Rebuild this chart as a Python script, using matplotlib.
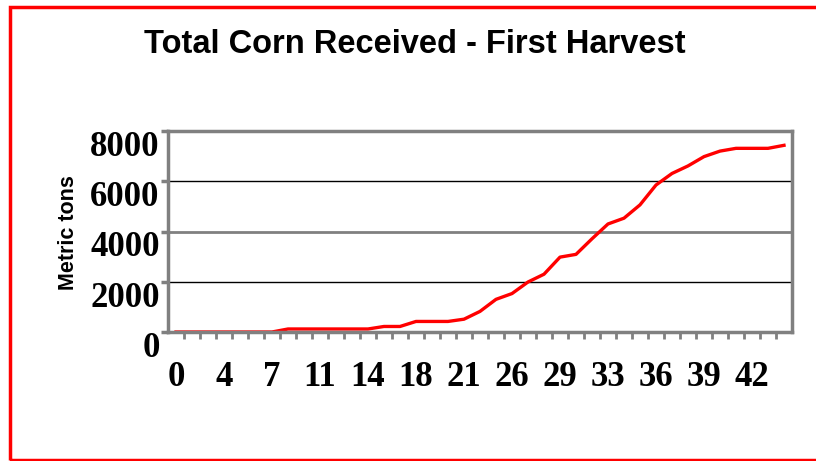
import matplotlib
matplotlib.use("Agg")
import matplotlib.pyplot as plt
from matplotlib.patches import Rectangle

# days of harvest (category axis) and cumulative corn received, metric tons
days = [0, 1, 2, 4, 5, 6, 7, 8, 10, 11, 12, 13, 14, 15, 17, 18, 19, 20, 21, 22,
        25, 26, 27, 28, 29, 30, 32, 33, 34, 35, 36, 37, 38, 39, 40, 41, 42, 43, 44]
tons = [0, 0, 0, 0, 0, 0, 0, 120, 120, 120, 120, 120, 120, 220, 220, 420, 420, 420,
        510, 820, 1300, 1530, 1990, 2300, 2980, 3090, 3710, 4300, 4530, 5060, 5850,
        6310, 6610, 6980, 7200, 7310, 7310, 7310, 7430]
yticks = [0, 2000, 4000, 6000, 8000]

W, H = 816, 461
fig = plt.figure(figsize=(W / 100, H / 100), dpi=100)

# red frame round the chart (right edge runs off the picture)
fig.patches.append(Rectangle((9.5 / W, 1 / H), 1.2, 1 - 8.5 / H, transform=fig.transFigure,
                             fill=False, edgecolor="red", linewidth=2.5))

ax = fig.add_axes([168 / W, 1 - 332 / H, 624 / W, 201 / H])
x = list(range(len(days)))
ax.plot(x, tons, color="red", linewidth=2.4, solid_joinstyle="round")

ax.set_xlim(-0.5, len(days) - 0.5)
ax.set_ylim(0, 8000)

grey = "#808080"
for s in ax.spines.values():
    s.set_color(grey)
    s.set_linewidth(2.5)

ax.set_yticks(yticks)
ax.set_yticklabels([str(v) for v in yticks], va="top")
ax.yaxis.grid(True, color="black", linewidth=1)
ax.get_ygridlines()[2].set_color(grey)
ax.get_ygridlines()[2].set_linewidth(2)

# tick marks sit between the categories, labels on every third one
ax.set_xticks([i - 0.5 for i in x[1:]], minor=True)
ax.set_xticks(x[::3])
ax.set_xticklabels([str(d) for d in days[::3]])
ax.tick_params(axis="x", which="major", length=0, pad=21)
ax.tick_params(axis="x", which="minor", length=5, width=2, color=grey)
ax.tick_params(axis="y", length=5, width=2.5, color=grey, pad=1)

for lab in ax.get_xticklabels() + ax.get_yticklabels():
    lab.set_fontfamily("Liberation Serif")
    lab.set_fontweight("bold")
    lab.set_fontsize(25)

fig.text(415 / W, 1 - 53 / H, "Total Corn Received - First Harvest", ha="center",
         va="baseline", fontsize=23.5, fontweight="bold", family="Liberation Sans")
fig.text(68 / W, 1 - 233 / H, "Metric tons", rotation=90, ha="center", va="center",
         fontsize=15.5, fontweight="bold", family="Liberation Sans")

fig.savefig("out.png", dpi=100)
